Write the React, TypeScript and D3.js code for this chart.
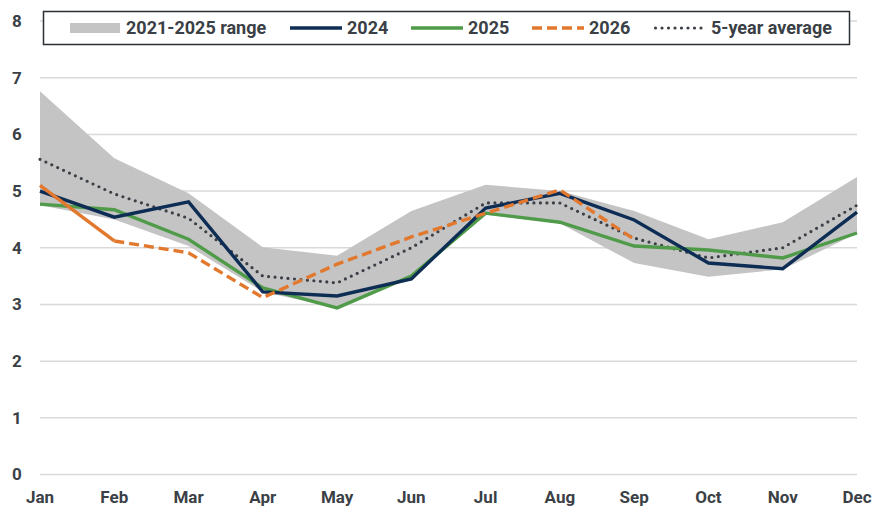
import * as d3 from "d3";

const months = ["Jan", "Feb", "Mar", "Apr", "May", "Jun", "Jul", "Aug", "Sep", "Oct", "Nov", "Dec"];
const rangeHigh = [6.76, 5.58, 4.96, 4.01, 3.86, 4.65, 5.11, 5.0, 4.65, 4.15, 4.45, 5.25];
const rangeLow = [4.75, 4.5, 4.03, 3.22, 2.94, 3.48, 4.58, 4.43, 3.73, 3.49, 3.62, 4.25];
const y2024 = [5.0, 4.54, 4.81, 3.22, 3.15, 3.45, 4.7, 4.96, 4.49, 3.73, 3.63, 4.63];
const y2025 = [4.77, 4.67, 4.15, 3.29, 2.94, 3.5, 4.61, 4.45, 4.03, 3.96, 3.82, 4.26];
const y2026 = [5.1, 4.12, 3.91, 3.12, 3.71, 4.19, 4.61, 5.02, 4.15];
const avg5 = [5.56, 4.95, 4.52, 3.5, 3.38, 4.0, 4.79, 4.79, 4.17, 3.82, 4.0, 4.75];
const yTicks = [0, 1, 2, 3, 4, 5, 6, 7, 8];

const W = 895;
const H = 520;
const left = 40;
const right = 857;
const top = 21;
const bottom = 474.5;

const textColor = "#3b3f46";
const navy = "#0e2d55";
const green = "#509b49";
const orange = "#e2782d";
const gray = "#c4c4c4";
const font = "Roboto, 'Liberation Sans', sans-serif";

export default function App() {
  const x = d3.scalePoint<string>().domain(months).range([left, right]);
  const y = d3.scaleLinear().domain([0, 8]).range([bottom, top]);

  const area = d3
    .area<number>()
    .x((_, i) => x(months[i])!)
    .y0((_, i) => y(rangeLow[i]))
    .y1((d) => y(d));

  const line = d3
    .line<number>()
    .x((_, i) => x(months[i])!)
    .y((d) => y(d));

  // 2026: first leg solid, rest dashed
  const line2026 = d3
    .line<[number, number]>()
    .x((d) => x(months[d[0]])!)
    .y((d) => y(d[1]));
  const pts2026 = y2026.map((v, i) => [i, v] as [number, number]);

  const legend = [
    { label: "2021-2025 range", kind: "band", x: 70 },
    { label: "2024", kind: "navy", x: 290 },
    { label: "2025", kind: "green", x: 411 },
    { label: "2026", kind: "orange", x: 532 },
    { label: "5-year average", kind: "dot", x: 654 },
  ];

  return (
    <svg
      width={W}
      height={H}
      style={{ position: "absolute", left: 0, top: 0, background: "#fff" }}
      fontFamily={font}
    >
      {yTicks.map((t) => (
        <g key={t}>
          <line x1={left} x2={right} y1={y(t)} y2={y(t)} stroke="#d9d9d9" strokeWidth={1.5} />
          <text
            x={17}
            y={y(t)}
            dy="0.35em"
            textAnchor="middle"
            fontSize={17}
            fontWeight={700}
            fill={textColor}
          >
            {t}
          </text>
        </g>
      ))}

      <path d={area(rangeHigh) ?? ""} fill={gray} />

      <path
        d={line(avg5) ?? ""}
        fill="none"
        stroke={textColor}
        strokeWidth={3.2}
        strokeDasharray="0,6.5"
        strokeLinecap="round"
      />
      <path d={line(y2025) ?? ""} fill="none" stroke={green} strokeWidth={3.4} />
      <path d={line(y2024) ?? ""} fill="none" stroke={navy} strokeWidth={3.4} />
      <path d={line2026(pts2026.slice(0, 2)) ?? ""} fill="none" stroke={orange} strokeWidth={3.4} />
      <path
        d={line2026(pts2026.slice(1)) ?? ""}
        fill="none"
        stroke={orange}
        strokeWidth={3.4}
        strokeDasharray="10,5"
      />

      {months.map((m) => (
        <text
          key={m}
          x={x(m)}
          y={503}
          textAnchor="middle"
          fontSize={17}
          fontWeight={700}
          fill={textColor}
        >
          {m}
        </text>
      ))}

      <rect x={43.5} y={11.5} width={806} height={33} fill="#fff" stroke="#2b2e33" strokeWidth={1.5} />
      {legend.map((l) => (
        <g key={l.label} transform={`translate(${l.x},28)`}>
          {l.kind === "band" && <rect x={0} y={-5} width={50} height={10} fill={gray} />}
          {l.kind === "navy" && <line x1={0} x2={52} stroke={navy} strokeWidth={3.4} />}
          {l.kind === "green" && <line x1={0} x2={52} stroke={green} strokeWidth={3.4} />}
          {l.kind === "orange" && (
            <line x1={0} x2={52} stroke={orange} strokeWidth={3.4} strokeDasharray="10,5" />
          )}
          {l.kind === "dot" && (
            <line
              x1={1.5}
              x2={52}
              stroke={textColor}
              strokeWidth={3.2}
              strokeDasharray="0,6.5"
              strokeLinecap="round"
            />
          )}
          <text
            x={l.kind === "band" ? 56 : 57}
            dy="0.35em"
            fontSize={18}
            fontWeight={700}
            fill={textColor}
          >
            {l.label}
          </text>
        </g>
      ))}
    </svg>
  );
}
